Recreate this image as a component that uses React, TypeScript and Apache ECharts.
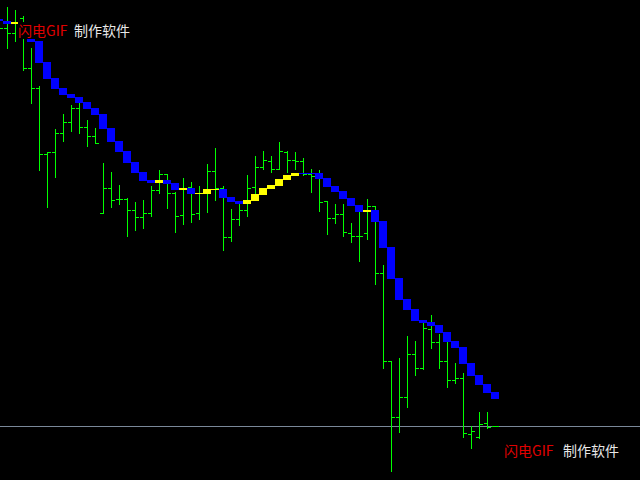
import React, { useEffect, useRef } from "react";
import * as echarts from "echarts";

// Bar index of the first entry (the bar just off the left edge)
const FIRST_INDEX = -1;

// Price levels (screen-row units, larger = lower price)
const highs = [10, 7, 10, 16, 48, 86, 152, 129, 114, 105, 103, 120, 128, 163, 172, 185, 198, 202, 200, 186, 170, 174, 192, 178, 182, 186, 164, 148, 186, 209, 203, 175, 156, 151, 156, 142, 151, 152, 158, 169, 170, 201, 204, 204, 223, 211, 199, 206, 265, 361, 358, 336, 341, 323, 315, 334, 340, 363, 373, 426, 412, 412, 426];
const lows = [40, 48, 41, 70, 103, 170, 207, 177, 141, 131, 133, 146, 143, 213, 207, 204, 236, 230, 228, 216, 193, 208, 232, 224, 222, 219, 212, 200, 250, 241, 225, 216, 197, 169, 172, 169, 172, 169, 175, 192, 211, 234, 223, 236, 242, 261, 239, 284, 368, 471, 432, 407, 375, 369, 348, 368, 387, 383, 437, 448, 438, 428, 426];
const opens = [20, 28, 33, 18, 68, 88, 154, 152, 133, 122, 108, 127, 136, 213, 188, 199, 199, 210, 217, 213, 190, 174, 193, 215, 187, 213, 193, 171, 188, 237, 219, 210, 187, 167, 161, 169, 152, 160, 161, 174, 176, 201, 218, 214, 233, 236, 233, 206, 273, 361, 417, 397, 354, 368, 329, 342, 361, 380, 378, 434, 437, 423, 426];
const closes = [28, 33, 22, 68, 88, 154, 152, 133, 122, 108, 127, 136, 143, 188, 200, 199, 210, 217, 213, 190, 174, 193, 216, 188, 214, 193, 171, 188, 237, 219, 210, 188, 167, 160, 169, 151, 160, 161, 174, 176, 202, 218, 214, 232, 236, 236, 206, 273, 361, 417, 397, 354, 368, 328, 342, 361, 380, 378, 433, 431, 424, 427, 426];

// Smoothed (Heiken Ashi style) open / close of the coloured boxes
const haOpen = [19, 21, 24, 23, 31, 41, 62, 78, 88, 94, 97, 102, 108, 114, 128, 141, 151, 162, 172, 180, 183, 180, 183, 190, 188, 194, 194, 190, 189, 197, 201, 204, 201, 195, 189, 186, 180, 176, 173, 173, 173, 178, 186, 191, 198, 205, 212, 210, 221, 247, 278, 299, 309, 320, 322, 325, 332, 341, 347, 363, 375, 384, 392];
const haClose = [21, 24, 22, 38, 42, 63, 79, 89, 95, 98, 103, 109, 115, 129, 142, 152, 163, 173, 181, 183, 180, 184, 190, 188, 194, 193, 189, 189, 198, 202, 204, 200, 194, 188, 185, 179, 175, 173, 174, 174, 179, 187, 192, 199, 206, 212, 210, 222, 248, 279, 300, 310, 321, 323, 326, 333, 342, 348, 364, 376, 385, 393, 399];

// Horizontal price level line
const levelLine = 426;

const BAR_COLOR = "#00ff00";
const DOWN_COLOR = "#0000ff";
const UP_COLOR = "#ffff00";
const LEVEL_COLOR = "#7a8899";

export default function App() {
  const ref = useRef<HTMLDivElement>(null);

  useEffect(() => {
    document.body.style.margin = "0";
    document.body.style.background = "#000";
    if (!ref.current) return;
    const chart = echarts.init(ref.current, undefined, { renderer: "svg" });

    const ohlcData = highs.map((_, k) => [k + FIRST_INDEX, opens[k], highs[k], lows[k], closes[k]]);
    const haData = haOpen.map((_, k) => [k + FIRST_INDEX, haOpen[k], haClose[k]]);

    const textStyle = (text: string, color: string) => ({
      text,
      fill: color,
      fontSize: 14,
      fontFamily: "'Noto Sans CJK SC', 'Noto Sans', sans-serif",
      verticalAlign: "middle",
      align: "left",
    });

    const px1 = (x: number, y: number, w: number, h: number, fill: string) => ({
      type: "rect",
      shape: { x, y, width: w, height: h },
      style: { fill },
    });

    chart.setOption({
      animation: false,
      backgroundColor: "#000000",
      grid: { left: 0, right: 0, top: 0, bottom: 0 },
      xAxis: { type: "value", min: -0.875, max: 79.125, show: false },
      yAxis: { type: "value", inverse: true, min: 0, max: 480, show: false },
      series: [
        {
          type: "custom",
          silent: true,
          z: 1,
          data: [[0, levelLine]],
          encode: { x: 0, y: 1 },
          renderItem: (params: any, api: any) => {
            const p = api.coord([0, api.value(1)]);
            const y = Math.round(p[1]);
            const cs = params.coordSys;
            return px1(cs.x, y, cs.width, 1, LEVEL_COLOR);
          },
        },
        {
          type: "custom",
          silent: true,
          z: 2,
          data: ohlcData,
          encode: { x: 0, y: [1, 2, 3, 4] },
          renderItem: (_params: any, api: any) => {
            const i = api.value(0);
            const pO = api.coord([i, api.value(1)]);
            const pH = api.coord([i, api.value(2)]);
            const pL = api.coord([i, api.value(3)]);
            const pC = api.coord([i, api.value(4)]);
            const px = Math.round(pH[0]);
            const yH = Math.round(pH[1]);
            const yL = Math.round(pL[1]);
            const yO = Math.round(pO[1]);
            const yC = Math.round(pC[1]);
            return {
              type: "group",
              children: [
                px1(px, yH, 1, yL - yH + 1, BAR_COLOR),
                px1(px - 3, yO, 3, 1, BAR_COLOR),
                px1(px + 1, yC, 3, 1, BAR_COLOR),
              ],
            };
          },
        },
        {
          type: "custom",
          silent: true,
          z: 3,
          data: haData,
          encode: { x: 0, y: [1, 2] },
          renderItem: (_params: any, api: any) => {
            const i = api.value(0);
            const o = api.value(1);
            const c = api.value(2);
            const pO = api.coord([i, o]);
            const pC = api.coord([i, c]);
            const px = Math.round(pO[0]);
            const y1 = Math.round(Math.min(pO[1], pC[1]));
            const y2 = Math.round(Math.max(pO[1], pC[1]));
            const color = c > o ? DOWN_COLOR : UP_COLOR;
            return px1(px - 4, y1, 8, Math.max(1, y2 - y1), color);
          },
        },
      ],
      graphic: [
        { type: "rect", z: 100, shape: { x: 18, y: 22, width: 116, height: 17 }, style: { fill: "#000000" } },
        { type: "text", z: 101, x: 18, y: 30, style: textStyle("闪电GIF", "#e00000") },
        { type: "text", z: 101, x: 74, y: 30, style: textStyle("制作软件", "#e8e8e8") },
        { type: "text", z: 101, x: 504, y: 450, style: textStyle("闪电GIF", "#e00000") },
        { type: "text", z: 101, x: 563, y: 450, style: textStyle("制作软件", "#e8e8e8") },
      ],
    });

    return () => chart.dispose();
  }, []);

  return <div ref={ref} style={{ width: 640, height: 480 }} />;
}
